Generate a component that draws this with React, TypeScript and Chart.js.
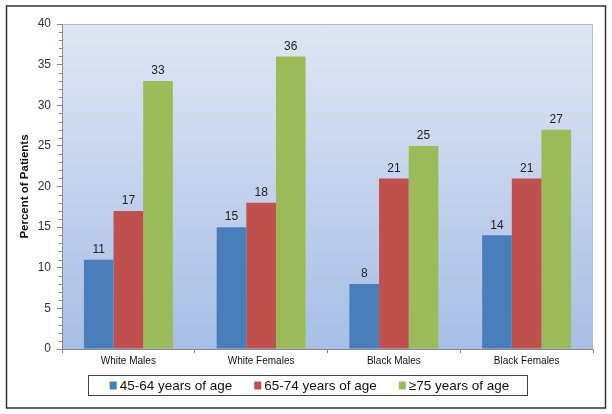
import React, { useRef, useEffect } from 'react';
import { Chart, registerables } from 'chart.js';

Chart.register(...registerables);

// Dados
const categories = ['White Males', 'White Females', 'Black Males', 'Black Females'];
const seriesLabels = ['45-64 years of age', '65-74 years of age', '\u226575 years of age'];
const age45to64 = [11, 15, 8, 14];
const age65to74 = [17, 18, 21, 21];
const age75plus = [33, 36, 25, 27];
const seriesColors = ['#4a7ebb', '#c0504d', '#9bbb59'];

const FONT = 'Arial, "Liberation Sans", sans-serif';

// Fundo, moldura, ticks menores, rótulos, título do eixo e legenda em caixa
const decorPlugin = {
  id: 'decor',
  beforeDraw(chart: any) {
    const { ctx, chartArea: a, width, height } = chart;
    ctx.save();
    ctx.fillStyle = '#fff';
    ctx.fillRect(0, 0, width, height);
    ctx.strokeStyle = '#333';
    ctx.lineWidth = 1.5;
    ctx.strokeRect(6.5, 6, width - 13, height - 12);
    const g = ctx.createLinearGradient(0, a.top, 0, a.bottom);
    g.addColorStop(0, '#dfe6f3');
    g.addColorStop(1, '#a7bee6');
    ctx.fillStyle = g;
    ctx.fillRect(a.left, a.top, a.right - a.left, a.bottom - a.top);
    ctx.strokeStyle = '#b8bcc4';
    ctx.lineWidth = 1;
    ctx.beginPath();
    ctx.moveTo(a.left, a.top + 0.5);
    ctx.lineTo(a.right - 0.5, a.top + 0.5);
    ctx.lineTo(a.right - 0.5, a.bottom);
    ctx.stroke();
    ctx.restore();
  },
  afterDraw(chart: any) {
    const { ctx, chartArea: a, scales } = chart;
    const y = scales.y;
    ctx.save();
    // ticks menores no eixo y
    ctx.strokeStyle = '#888';
    ctx.lineWidth = 1;
    ctx.beginPath();
    for (let v = 0; v <= 40; v++) {
      if (v % 5 === 0) continue;
      const py = Math.round(y.getPixelForValue(v)) + 0.5;
      ctx.moveTo(a.left - 3, py);
      ctx.lineTo(a.left, py);
    }
    ctx.stroke();

    // valores acima das barras
    ctx.fillStyle = '#222';
    ctx.font = `12px ${FONT}`;
    ctx.textAlign = 'center';
    ctx.textBaseline = 'bottom';
    chart.data.datasets.forEach((ds: any, i: number) => {
      const meta = chart.getDatasetMeta(i);
      meta.data.forEach((bar: any, j: number) => {
        ctx.fillText(String(ds.data[j]), bar.x, bar.y - 4);
      });
    });

    // título do eixo y
    ctx.save();
    ctx.translate(25, (a.top + a.bottom) / 2);
    ctx.rotate(-Math.PI / 2);
    ctx.font = `bold 11.5px ${FONT}`;
    ctx.fillStyle = '#111';
    ctx.textBaseline = 'middle';
    ctx.fillText('Percent of Patients', 0, 0);
    ctx.restore();

    // legenda com borda
    ctx.font = `13.5px ${FONT}`;
    const sq = 8;
    const gapSq = 2;
    const gapItem = 22;
    const widths = chart.data.datasets.map((ds: any) => ctx.measureText(ds.label).width);
    const total = widths.reduce((s: number, w: number) => s + sq + gapSq + w, 0) + gapItem * (widths.length - 1);
    let x = 309.5 - total / 2;
    const boxTop = 375;
    const boxBottom = 395;
    ctx.strokeStyle = '#444';
    ctx.lineWidth = 1;
    ctx.strokeRect(Math.round(x - 22) + 0.5, boxTop + 0.5, Math.round(total + 39), boxBottom - boxTop);
    const cy = (boxTop + boxBottom) / 2 + 0.5;
    ctx.textAlign = 'left';
    ctx.textBaseline = 'middle';
    chart.data.datasets.forEach((ds: any, i: number) => {
      ctx.fillStyle = ds.backgroundColor;
      ctx.fillRect(x, cy - sq / 2, sq - 1, sq);
      x += sq + gapSq;
      ctx.fillStyle = '#111';
      ctx.fillText(ds.label, x, cy + 0.5);
      x += widths[i] + gapItem;
    });
    ctx.restore();
  },
};

export default function App() {
  const chartRef = useRef<HTMLCanvasElement | null>(null);
  const chartInstance = useRef<Chart | null>(null);

  useEffect(() => {
    if (!chartRef.current) return;
    if (chartInstance.current) chartInstance.current.destroy();

    const seriesValues = [age45to64, age65to74, age75plus];
    chartInstance.current = new Chart(chartRef.current, {
      type: 'bar',
      data: {
        labels: categories,
        datasets: seriesValues.map((vals, i) => ({
          label: seriesLabels[i],
          data: vals,
          backgroundColor: seriesColors[i],
          borderWidth: 0,
          categoryPercentage: 0.67,
          barPercentage: 1.0,
        })),
      },
      options: {
        responsive: false,
        animation: false,
        layout: { padding: { left: 0, top: 24, right: 19, bottom: 35 } },
        plugins: {
          legend: { display: false },
          tooltip: { enabled: false },
        },
        scales: {
          x: {
            afterFit: (scale: any) => { scale.height = 30; },
            grid: { display: true, drawOnChartArea: false, drawTicks: true, tickLength: 4, offset: true, color: '#888' },
            border: { display: true, color: '#888' },
            ticks: { color: '#111', font: { family: FONT, size: 10 }, padding: 2, maxRotation: 0 },
          },
          y: {
            min: 0,
            max: 40,
            afterFit: (scale: any) => { scale.width = 62; },
            grid: { display: true, drawOnChartArea: false, drawTicks: true, tickLength: 5, color: '#888' },
            border: { display: true, color: '#888' },
            ticks: { stepSize: 5, color: '#333', font: { family: FONT, size: 12 }, padding: 6 },
          },
        },
      },
      plugins: [decorPlugin],
    });

    return () => {
      if (chartInstance.current) {
        chartInstance.current.destroy();
        chartInstance.current = null;
      }
    };
  }, []);

  return (
    <div style={{ position: 'absolute', left: 0, top: 0, width: 612, height: 414 }}>
      <canvas ref={chartRef} width={612} height={414}></canvas>
    </div>
  );
}
